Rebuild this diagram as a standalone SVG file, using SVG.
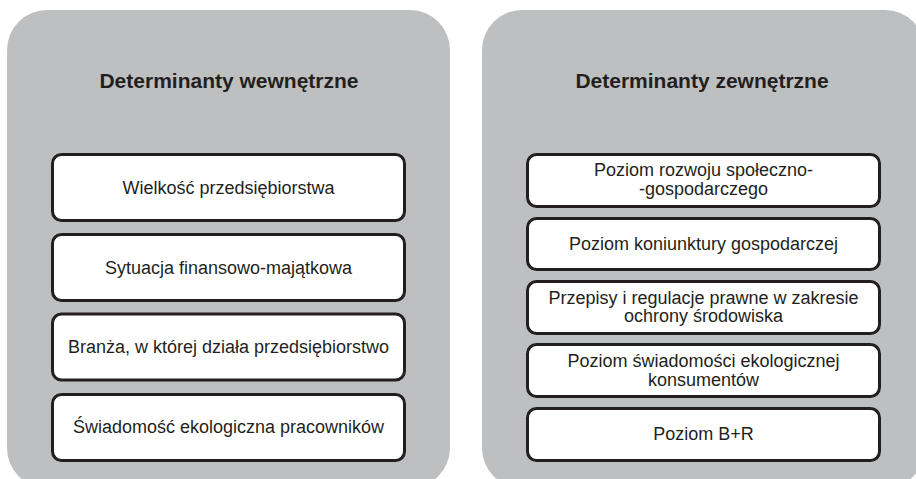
<svg xmlns="http://www.w3.org/2000/svg" width="916" height="479" viewBox="0 0 916 479">
  <style>
    .panel { fill: #bebfc1; }
    .box { fill: #ffffff; stroke: #231f20; stroke-width: 3; }
    .title { font-family: "Liberation Sans", Arial, sans-serif; font-size: 21px; font-weight: bold; fill: #231f20; text-anchor: middle; }
    .label { font-family: "Liberation Sans", Arial, sans-serif; font-size: 18px; fill: #231f20; text-anchor: middle; }
  </style>
  <rect width="916" height="479" fill="#ffffff"/>

  <!-- internal determinants panel -->
  <g id="panel-internal">
    <rect class="panel" x="7" y="10" width="443" height="478" rx="40" ry="40"/>
    <text class="title" x="229" y="88">Determinanty wewnętrzne</text>
  </g>
  <g id="int-1">
    <rect class="box" x="52.5" y="154.5" width="352" height="66" rx="9"/>
    <text class="label" x="228.5" y="194">Wielkość przedsiębiorstwa</text>
  </g>
  <g id="int-2">
    <rect class="box" x="52.5" y="234.5" width="352" height="66" rx="9"/>
    <text class="label" x="228.5" y="273.5">Sytuacja finansowo-majątkowa</text>
  </g>
  <g id="int-3">
    <rect class="box" x="52.5" y="314" width="352" height="66" rx="9"/>
    <text class="label" x="228.5" y="353">Branża, w której działa przedsiębiorstwo</text>
  </g>
  <g id="int-4">
    <rect class="box" x="52.5" y="394.5" width="352" height="66" rx="9"/>
    <text class="label" x="228.5" y="433">Świadomość ekologiczna pracowników</text>
  </g>

  <!-- external determinants panel -->
  <g id="panel-external">
    <rect class="panel" x="482" y="10" width="443" height="478" rx="40" ry="40"/>
    <text class="title" x="702" y="88">Determinanty zewnętrzne</text>
  </g>
  <g id="ext-1">
    <rect class="box" x="527.5" y="154.5" width="352" height="52" rx="9"/>
    <text class="label" x="703.5" y="176">Poziom rozwoju społeczno-</text>
    <text class="label" x="703.5" y="194.5">-gospodarczego</text>
  </g>
  <g id="ext-2">
    <rect class="box" x="527.5" y="218.5" width="352" height="51" rx="9"/>
    <text class="label" x="703.5" y="250">Poziom koniunktury gospodarczej</text>
  </g>
  <g id="ext-3">
    <rect class="box" x="527.5" y="281.5" width="352" height="52" rx="9"/>
    <text class="label" x="703.5" y="303.5">Przepisy i regulacje prawne w zakresie</text>
    <text class="label" x="703.5" y="322">ochrony środowiska</text>
  </g>
  <g id="ext-4">
    <rect class="box" x="527.5" y="344.5" width="352" height="52" rx="9"/>
    <text class="label" x="703.5" y="367">Poziom świadomości ekologicznej</text>
    <text class="label" x="703.5" y="385.5">konsumentów</text>
  </g>
  <g id="ext-5">
    <rect class="box" x="527.5" y="408.5" width="352" height="52" rx="9"/>
    <text class="label" x="703.5" y="440">Poziom B+R</text>
  </g>

  <g id="connectors"/>
</svg>
